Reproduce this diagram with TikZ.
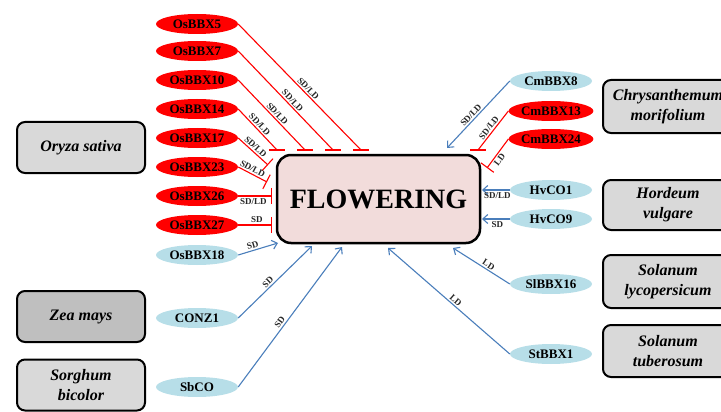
\documentclass[tikz,border=0pt]{standalone}
\usepackage{fontspec}
\setmainfont{Liberation Serif}
\usetikzlibrary{shapes.geometric,arrows.meta}
\definecolor{redc}{HTML}{FF0000}
\definecolor{lblue}{HTML}{B7DEE8}
\definecolor{bluel}{HTML}{4A7EBB}
\definecolor{pinkf}{HTML}{F2DCDB}
\definecolor{grayf}{HTML}{D9D9D9}
\definecolor{grayd}{HTML}{BFBFBF}
\begin{document}
\begin{tikzpicture}[x=1pt,y=-1pt,
 gene/.style={ellipse, minimum width=82pt, minimum height=20pt, inner sep=0pt, font=\fontsize{13}{13}\selectfont\bfseries},
 redgene/.style={gene, fill=redc},
 bluegene/.style={gene, fill=lblue},
 species/.style={draw=black, line width=2pt, rounded corners=8pt, fill=grayf, minimum width=128pt, minimum height=51pt, align=center, inner sep=1pt, font=\fontsize{16}{20}\selectfont\bfseries\itshape},
 inh/.style={draw=redc, line width=1.1pt},
 inhbar/.style={draw=redc, line width=1.1pt, -{Bar[width=16pt,line width=1.1pt]}},
 act/.style={draw=bluel, line width=1.1pt, -{Straight Barb[length=5pt,width=9pt,line width=1.1pt]}},
 lab/.style={font=\fontsize{9}{9}\selectfont\bfseries, inner sep=1.5pt, text=black!85}
]
\useasboundingbox (0,0) rectangle (721,412);
\clip (0,0) rectangle (721,412);

% central box
\node[draw=black, line width=2.5pt, rounded corners=14pt, fill=pinkf, minimum width=203pt, minimum height=88pt, font=\fontsize{28}{28}\selectfont\bfseries] (fl) at (378.5,199) {FLOWERING};

% species boxes
\node[species] (os) at (81,147.5) {Oryza sativa};
\node[species, fill=grayd] (zm) at (81,316.5) {Zea mays};
\node[species] (sb) at (81,385) {Sorghum\\bicolor};
\node[species, minimum width=130pt, minimum height=53pt] (cm) at (668,106.5) {Chrysanthemum\\morifolium};
\node[species, minimum width=130pt, minimum height=50pt] (hv) at (668,205) {Hordeum\\vulgare};
\node[species, minimum width=130pt, minimum height=53pt] (sl) at (668,281.5) {Solanum\\lycopersicum};
\node[species, minimum width=130pt, minimum height=52pt] (st) at (668,351) {Solanum\\tuberosum};

% left genes
\node[redgene] (g5) at (197,24) {OsBBX5};
\node[redgene] (g7) at (197,51) {OsBBX7};
\node[redgene] (g10) at (197,80) {OsBBX10};
\node[redgene] (g14) at (197,109) {OsBBX14};
\node[redgene] (g17) at (197,138) {OsBBX17};
\node[redgene] (g23) at (197,167) {OsBBX23};
\node[redgene] (g26) at (197,196) {OsBBX26};
\node[redgene] (g27) at (197,225) {OsBBX27};
\node[bluegene] (g18) at (197,255) {OsBBX18};
\node[bluegene] (cz) at (197,318) {CONZ1};
\node[bluegene] (sbco) at (197,387) {SbCO};

% right genes
\node[bluegene] (cm8) at (551,81) {CmBBX8};
\node[redgene] (cm13) at (551,111) {CmBBX13};
\node[redgene] (cm24) at (551,139) {CmBBX24};
\node[bluegene] (hv1) at (551,190) {HvCO1};
\node[bluegene] (hv9) at (551,219) {HvCO9};
\node[bluegene] (sl16) at (551,284) {SlBBX16};
\node[bluegene] (st1) at (551,354) {StBBX1};

% end coordinates
\coordinate (e5) at (361,150);
\coordinate (e7) at (333,150);
\coordinate (e10) at (305,150);
\coordinate (e14) at (277,150);
\coordinate (e17) at (268,165);
\coordinate (e23) at (267,182);
\coordinate (e13) at (478,150);
\coordinate (e24) at (487,168);

% top inhibitions with horizontal bars
\foreach \g/\e/\p in {g5/e5/0.54, g7/e7/0.535, g10/e10/0.53, g14/e14/0.46}{
  \draw[inh] (\g.east) -- node[lab, sloped, above, pos=\p] {SD/LD} (\e);
  \draw[inh] ([xshift=-8pt]\e) -- ([xshift=8pt]\e);
}
\draw[inhbar] (g17.east) -- node[lab, sloped, above, pos=0.47] {SD/LD} (e17);
\draw[inhbar] (g23.east) -- node[lab, sloped, above, pos=0.42] {SD/LD} (e23);
\draw[inhbar] (g26.east) -- node[lab, below, pos=0.45] {SD/LD} (g26.east -| 272,0);
\draw[inhbar] (g27.east) -- node[lab, above, pos=0.55] {SD} (g27.east -| 272,0);

% left activations
\draw[act] (g18.east) -- node[lab, sloped, above, pos=0.4] {SD} (278,243);
\draw[act] (cz.east) -- node[lab, sloped, above, pos=0.45] {SD} (312,246);
\draw[act] (sbco.east) -- node[lab, sloped, above, pos=0.44] {SD} (342,247);

% right side
\draw[act] (cm8.west) -- node[lab, sloped, above, pos=0.56] {SD/LD} (447,148);
\draw[inh] (cm13.west) -- node[lab, sloped, above, pos=0.51] {SD/LD} (e13);
\draw[inh] ([xshift=-8pt]e13) -- ([xshift=8pt]e13);
\draw[inhbar] (cm24.west) -- node[lab, sloped, below, pos=0.6] {LD} (e24);
\draw[act] (hv1.west) -- node[lab, below, pos=0.45] {SD/LD} (hv1.west -| 482,0);
\draw[act] (hv9.west) -- node[lab, below, pos=0.45] {SD} (hv9.west -| 482,0);
\draw[act] (sl16.west) -- node[lab, sloped, above, pos=0.42] {LD} (453,248);
\draw[act] (st1.west) -- node[lab, sloped, above, pos=0.47] {LD} (388,248);
\end{tikzpicture}
\end{document}
